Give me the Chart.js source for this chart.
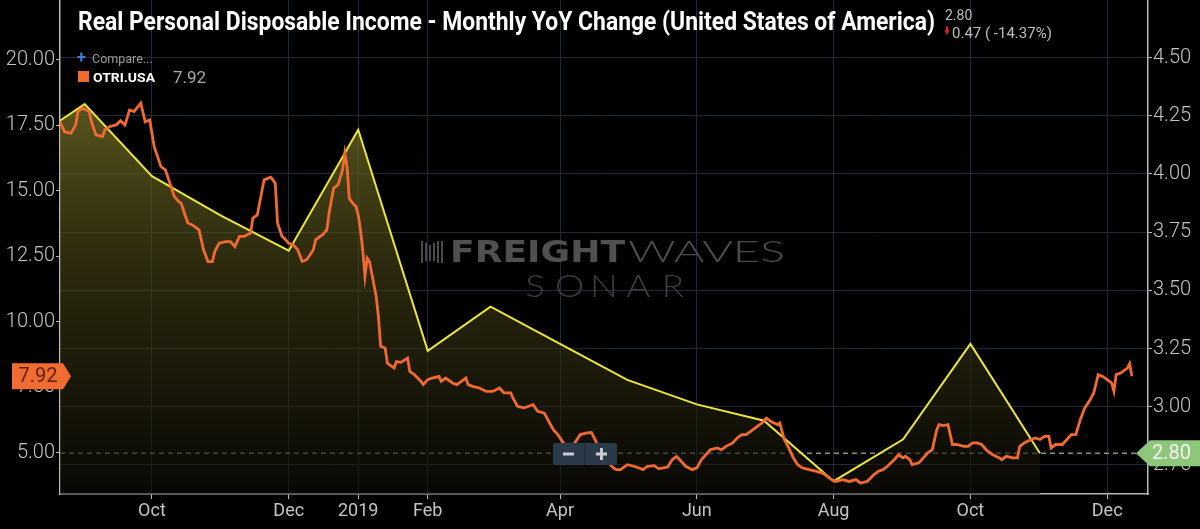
<!DOCTYPE html>
<html>
<head>
<meta charset="utf-8">
<script src="https://cdn.jsdelivr.net/npm/chart.js@4.4.1/dist/chart.umd.min.js"></script>
<style>
  html, body { margin: 0; padding: 0; background: #000; }
  #wrap { width: 1200px; height: 529px; }
</style>
</head>
<body>
<div id="wrap"><canvas id="c" width="1200" height="529"></canvas></div>
<script>
// ---- Data (x = days since 2018-10-01) ----
const titleText = "Real Personal Disposable Income - Monthly YoY Change (United States of America)";
const seriesName = "OTRI.USA";

const xTickDays   = [0, 61, 92, 123, 182, 243, 304, 365, 426];
const xTickLabels = ["Oct", "Dec", "2019", "Feb", "Apr", "Jun", "Aug", "Oct", "Dec"];

const leftTicks  = [5, 7.5, 10, 12.5, 15, 17.5, 20];
const rightTicks = [2.75, 3.0, 3.25, 3.5, 3.75, 4.0, 4.25, 4.5];

// Monthly YoY change of real personal disposable income (right axis)
const yellowDay   = [-61, -30, 0, 31, 61, 92, 123, 151, 182, 212, 243, 273, 304, 335, 365, 396];
const yellowValue = [4.10, 4.30, 3.99, 3.82, 3.67, 4.19, 3.24, 3.43, 3.27, 3.115, 3.01, 2.94, 2.68, 2.86, 3.27, 2.80];

// OTRI.USA (left axis)
const orangeDay = [
  -41,-39,-36,-34,-33,-31,-28,-27,-25,-22,
  -21,-19,-16,-14,-12,-10,-8,-5,-3,-1,
  1,4,6,8,10,12,13,15,16,18,
  21,23,25,27,28,30,33,35,37,39,
  41,44,45,47,50,53,55,56,58,59,
  61,63,65,67,69,70,72,73,75,76,
  78,79,81,83,85,86,87,88,89,91,
  92,93,94,95,96,97,98,100,101,102,
  104,105,108,109,111,114,115,117,120,121,
  123,125,128,129,131,134,136,138,140,141,
  143,146,149,152,155,157,160,161,163,166,
  168,170,172,175,177,179,181,183,184,186,
  188,190,191,194,196,198,201,205,207,209,
  212,215,217,219,221,224,226,228,230,232,
  234,236,238,241,243,245,247,249,252,254,
  256,259,261,263,265,267,270,272,274,276,
  279,280,282,284,286,288,290,293,296,299,
  301,303,305,308,311,314,316,319,322,324,
  326,328,331,333,335,336,338,339,342,344,
  346,348,350,351,353,355,357,359,362,364,
  366,368,370,372,375,378,379,381,384,386,
  387,389,392,394,396,398,400,401,403,406,
  408,410,412,414,416,418,420,422,424,426,
  428,429,430,432,435,436,437
];
const orangeValue = [
  17.64,17.26,17.20,17.52,18.03,18.16,18.03,17.64,17.14,17.07,
  17.33,17.45,17.52,17.68,17.52,18.09,18.03,18.35,17.64,17.71,
  16.69,15.93,15.80,15.29,14.78,14.59,14.53,14.02,13.77,13.70,
  13.51,12.75,12.30,12.30,12.68,13.00,13.06,13.06,12.87,13.26,
  13.26,13.39,13.96,14.08,15.42,15.52,15.29,13.77,13.26,13.19,
  13.00,12.94,12.75,12.30,12.37,12.49,12.75,13.13,13.26,13.32,
  13.51,14.15,15.10,15.23,15.80,16.44,15.93,14.72,14.59,14.40,
  14.08,13.51,12.75,11.73,12.43,12.30,11.86,10.97,10.20,9.06,
  9.00,8.42,8.23,8.48,8.45,8.61,8.10,7.98,7.72,7.60,
  7.79,7.85,7.91,7.72,7.85,7.66,7.60,7.72,7.85,7.60,
  7.53,7.47,7.34,7.34,7.47,7.28,7.28,7.09,6.77,6.71,
  6.77,6.83,6.58,6.51,6.19,5.88,5.69,5.43,5.31,5.10,
  5.30,5.56,5.69,5.75,5.77,5.43,4.90,4.48,4.35,4.35,
  4.54,4.48,4.42,4.35,4.48,4.50,4.38,4.42,4.45,4.73,
  4.86,4.67,4.48,4.35,4.42,4.73,4.92,5.11,5.18,5.11,
  5.24,5.37,5.56,5.69,5.69,5.81,6.00,6.13,6.32,6.19,
  6.07,6.13,5.50,5.18,4.80,4.54,4.42,4.35,4.29,4.22,
  4.10,3.97,3.90,3.97,3.90,3.97,3.84,3.90,4.16,4.29,
  4.35,4.48,4.73,4.92,4.80,4.86,4.73,4.54,4.61,4.80,
  4.99,5.11,5.88,6.07,6.03,6.07,5.31,5.31,5.24,5.24,
  5.37,5.37,5.31,5.11,4.92,4.80,4.73,4.86,4.80,4.80,
  5.24,5.37,5.50,5.56,5.50,5.62,5.62,5.18,5.31,5.31,
  5.50,5.69,5.69,6.26,6.71,6.96,7.28,7.98,7.91,7.79,
  7.66,7.34,7.98,8.04,8.23,8.40,7.92
];

const headerLast = "2.80";
const headerChange = "0.47 ( -14.37%)";
const legendLast = "7.92";

// ---- Styles ----
const ORANGE = '#f26a2f';
const YELLOW = '#ece53a';
const GRID = '#202b38';
const AXIS = '#b8b8b8';
const LABEL = '#c4c4c4';

function fitText(ctx, text, x, y, width) {
  const w = ctx.measureText(text).width;
  ctx.save();
  ctx.translate(x, y);
  ctx.scale(width / w, 1);
  ctx.fillText(text, 0, 0);
  ctx.restore();
}

const overlay = {
  id: 'overlay',
  beforeDatasetsDraw(chart) {
    const ctx = chart.ctx, a = chart.chartArea;
    ctx.save();
    // watermark icon
    ctx.fillStyle = '#4a4a4a';
    const bars = [[421,241,22],[425,243,18],[429,245,16],[433,243,18],[437,241,22],[441,241,22]];
    bars.forEach(b => ctx.fillRect(b[0], b[1], 2, b[2]));
    ctx.textBaseline = 'alphabetic';
    ctx.fillStyle = '#505050';
    ctx.font = 'bold 30px "DejaVu Sans"';
    fitText(ctx, 'FREIGHT', 450, 262, 175);
    ctx.font = '300 30px Lato';
    ctx.fillStyle = '#4c4c4c';
    fitText(ctx, 'WAVES', 628, 262, 157);
    // SONAR spaced letters
    ctx.font = '300 32px Lato';
    ctx.fillStyle = '#3e3e3e';
    const letters = 'SONAR'.split('');
    const sx = 518, ex = 690, step = (ex - sx) / letters.length;
    letters.forEach((ch, i) => {
      const w = ctx.measureText(ch).width;
      ctx.save();
      ctx.translate(sx + step * i + (step - w * 1.15) / 2, 297);
      ctx.scale(1.15, 1);
      ctx.fillText(ch, 0, 0);
      ctx.restore();
    });
    // dashed last-value line
    const yD = chart.scales.yR.getPixelForValue(yellowValue[yellowValue.length - 1]);
    ctx.strokeStyle = 'rgba(175,195,175,0.75)';
    ctx.lineWidth = 1.3;
    ctx.setLineDash([5, 4]);
    ctx.beginPath();
    ctx.moveTo(a.left, yD);
    ctx.lineTo(a.right, yD);
    ctx.stroke();
    ctx.restore();
  },
  afterDraw(chart) {
    const ctx = chart.ctx;
    ctx.save();
    ctx.textBaseline = 'alphabetic';
    // title
    ctx.fillStyle = '#ffffff';
    ctx.font = 'bold 25px Roboto';
    fitText(ctx, titleText, 78, 30, 857);
    // header values
    ctx.fillStyle = '#bdbdbd';
    ctx.font = '14px Roboto';
    ctx.fillText(headerLast, 945, 20);
    ctx.font = '15px Roboto';
    ctx.fillText(headerChange, 952, 38);
    ctx.fillStyle = '#e3202c';
    ctx.beginPath();
    ctx.moveTo(944.5, 30); ctx.lineTo(949.5, 30); ctx.lineTo(947, 35); ctx.closePath(); ctx.fill();
    ctx.fillRect(946, 26.5, 2, 4);
    // legend
    ctx.fillStyle = '#3d7fe0';
    ctx.font = 'bold 16px Roboto';
    ctx.fillText('+', 77, 63);
    ctx.fillStyle = '#9a9a9a';
    ctx.font = '12.5px Roboto';
    ctx.fillText('Compare...', 92, 63);
    ctx.fillStyle = ORANGE;
    ctx.fillRect(78, 71, 11, 11);
    ctx.fillStyle = '#ffffff';
    ctx.font = 'bold 13px Roboto';
    fitText(ctx, seriesName, 93, 82, 62);
    ctx.fillStyle = '#a8a8a8';
    ctx.font = '17px Roboto';
    ctx.fillText(legendLast, 173, 83);
    // zoom buttons
    ctx.fillStyle = '#2b3a49';
    ctx.beginPath();
    ctx.roundRect(553, 443, 64, 22, 2);
    ctx.fill();
    ctx.fillStyle = '#1c2632';
    ctx.fillRect(584.5, 443, 1, 22);
    ctx.fillStyle = '#c5ccd4';
    ctx.fillRect(563, 452.5, 11, 3);
    ctx.fillRect(596, 452.5, 11, 3);
    ctx.fillRect(600, 448, 3, 12);
    // left badge (last OTRI value)
    const yL = chart.scales.yL.getPixelForValue(orangeValue[orangeValue.length - 1]);
    ctx.fillStyle = '#f26b30';
    ctx.beginPath();
    ctx.moveTo(12, yL - 13); ctx.lineTo(63, yL - 13); ctx.lineTo(71, yL);
    ctx.lineTo(63, yL + 13); ctx.lineTo(12, yL + 13); ctx.closePath(); ctx.fill();
    ctx.fillStyle = '#5c2309';
    ctx.font = '20px Roboto';
    ctx.textBaseline = 'middle';
    ctx.textAlign = 'center';
    ctx.fillText(legendLast, 38, yL + 1);
    // right badge (last income value)
    const yR = chart.scales.yR.getPixelForValue(yellowValue[yellowValue.length - 1]);
    ctx.fillStyle = '#8cc77a';
    ctx.beginPath();
    ctx.moveTo(1136, yR); ctx.lineTo(1150, yR - 13); ctx.lineTo(1200, yR - 13);
    ctx.lineTo(1200, yR + 13); ctx.lineTo(1150, yR + 13); ctx.closePath(); ctx.fill();
    ctx.fillStyle = '#f4f4f4';
    ctx.textAlign = 'left';
    ctx.fillText(headerLast, 1152, yR + 1);
    ctx.restore();
  }
};

const ctx = document.getElementById('c').getContext('2d');

new Chart(ctx, {
  type: 'line',
  data: {
    datasets: [
      {
        label: seriesName,
        data: orangeDay.map((d, i) => ({ x: d, y: orangeValue[i] })),
        yAxisID: 'yL',
        borderColor: ORANGE,
        borderWidth: 2.8,
        pointRadius: 0,
        tension: 0,
        fill: false
      },
      {
        label: 'Real Personal Disposable Income YoY',
        data: yellowDay.map((d, i) => ({ x: d, y: yellowValue[i] })),
        yAxisID: 'yR',
        borderColor: YELLOW,
        borderWidth: 2,
        pointRadius: 0,
        tension: 0,
        fill: 'start',
        backgroundColor: (c) => {
          const chart = c.chart;
          const g = chart.ctx.createLinearGradient(0, 90, 0, chart.chartArea ? chart.chartArea.bottom : 494);
          g.addColorStop(0, 'rgba(120,114,40,0.78)');
          g.addColorStop(0.45, 'rgba(70,66,22,0.6)');
          g.addColorStop(1, 'rgba(14,13,6,0.6)');
          return g;
        }
      }
    ]
  },
  options: {
    responsive: false,
    animation: false,
    devicePixelRatio: 1,
    layout: { padding: 0 },
    plugins: { legend: { display: false }, tooltip: { enabled: false }, title: { display: false } },
    scales: {
      x: {
        type: 'linear',
        min: -41,
        max: 444.2,
        afterBuildTicks: (s) => { s.ticks = xTickDays.map(v => ({ value: v })); },
        afterFit: (s) => { s.height = 35; s.paddingLeft = 0; s.paddingRight = 0; },
        ticks: {
          autoSkip: false, maxRotation: 0, minRotation: 0,
          color: LABEL, padding: 2,
          font: { family: 'Roboto', size: 18 },
          callback: (v) => { const i = xTickDays.indexOf(v); return i >= 0 ? xTickLabels[i] : ''; }
        },
        grid: { color: GRID, tickColor: AXIS, tickLength: 5, lineWidth: 1 },
        border: { display: true, color: AXIS, width: 1.5 }
      },
      yL: {
        type: 'linear',
        position: 'left',
        min: 3.42,
        max: 22.29,
        afterBuildTicks: (s) => { s.ticks = leftTicks.map(v => ({ value: v })); },
        afterFit: (s) => { s.width = 60; s.paddingTop = 0; s.paddingBottom = 0; },
        ticks: {
          color: LABEL, padding: 1,
          font: { family: 'Roboto', size: 20, weight: '300' },
          callback: (v) => v.toFixed(2)
        },
        grid: { drawOnChartArea: false, tickColor: AXIS, tickLength: 4 },
        border: { display: true, color: AXIS, width: 1.5 }
      },
      yR: {
        type: 'linear',
        position: 'right',
        min: 2.625,
        max: 4.747,
        afterBuildTicks: (s) => { s.ticks = rightTicks.map(v => ({ value: v })); },
        afterFit: (s) => { s.width = 52; s.paddingTop = 0; s.paddingBottom = 0; },
        ticks: {
          color: LABEL, padding: 1,
          font: { family: 'Roboto', size: 20, weight: '300' },
          callback: (v) => v.toFixed(2)
        },
        grid: { color: GRID, tickColor: AXIS, tickLength: 4 },
        border: { display: true, color: AXIS, width: 1.5 }
      }
    }
  },
  plugins: [overlay]
});
</script>
</body>
</html>
